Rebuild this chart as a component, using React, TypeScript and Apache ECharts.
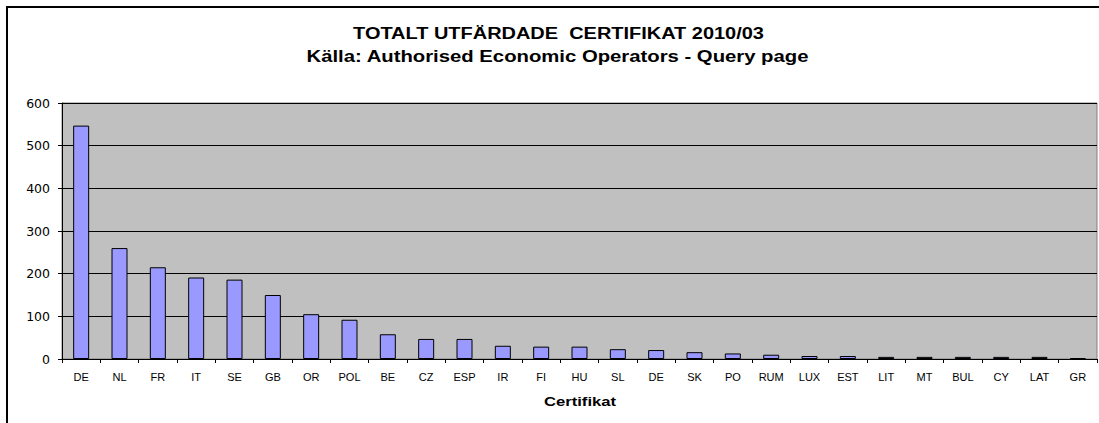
import React, { useEffect, useRef } from "react";
import * as echarts from "echarts";

const categories = ["DE", "NL", "FR", "IT", "SE", "GB", "OR", "POL", "BE", "CZ", "ESP", "IR", "FI", "HU", "SL", "DE ", "SK", "PO", "RUM", "LUX", "EST", "LIT", "MT", "BUL", "CY", "LAT", "GR"];
const values = [547, 260, 215, 191, 186, 150, 105, 92, 58, 47, 47, 31, 29, 29, 23, 21, 16, 13, 10, 7, 7, 5, 5, 5, 5, 5, 2];
const yTicks = [0, 100, 200, 300, 400, 500, 600];
const titleText = "TOTALT UTFÄRDADE  CERTIFIKAT 2010/03";
const subtitleText = "Källa: Authorised Economic Operators - Query page";
const xAxisName = "Certifikat";

export default function App() {
  const ref = useRef<HTMLDivElement>(null);
  useEffect(() => {
    if (!ref.current) return;
    const chart = echarts.init(ref.current, undefined, { renderer: "svg" });
    const font = "'Liberation Sans', Arial, sans-serif";
    const boldText = (text: string, x: number, y: number, size: number, sx: number) => ({
      type: "text",
      x,
      y,
      scaleX: sx,
      silent: true,
      style: {
        text,
        fill: "#000",
        font: `bold ${size}px ${font}`,
        textAlign: "center",
        textVerticalAlign: "middle",
      },
    });
    chart.setOption({
      animation: false,
      backgroundColor: "#ffffff",
      textStyle: { fontFamily: font },
      graphic: [
        {
          type: "polyline",
          shape: { points: [[7, 430], [7, 7], [1110, 7]] },
          style: { stroke: "#000", lineWidth: 2, fill: null },
          silent: true,
        },
        boldText(titleText, 558.5, 33.5, 16, 1.248),
        boldText(subtitleText, 557.5, 56, 16, 1.268),
        boldText(xAxisName, 580, 401, 13, 1.28),
      ],
      grid: {
        left: 62,
        right: 2,
        top: 103,
        bottom: 64,
        show: true,
        backgroundColor: "#c0c0c0",
        borderColor: "#808080",
        borderWidth: 1,
      },
      xAxis: {
        type: "category",
        data: categories,
        axisLine: { show: true, lineStyle: { color: "#000", width: 1 } },
        axisTick: { show: true, interval: 0, length: 4, lineStyle: { color: "#000" } },
        axisLabel: {
          interval: 0,
          margin: 12,
          fontSize: 11,
          color: "#000",
          fontFamily: font,
          formatter: (v: string) => v.trim(),
        },
        splitLine: { show: false },
      },
      yAxis: {
        type: "value",
        min: yTicks[0],
        max: yTicks[yTicks.length - 1],
        interval: yTicks[1] - yTicks[0],
        axisLine: { show: true, lineStyle: { color: "#000", width: 1 } },
        axisTick: { show: true, length: 4, lineStyle: { color: "#000" } },
        axisLabel: { margin: 12, fontSize: 12.5, color: "#000", fontFamily: "'DejaVu Sans', sans-serif" },
        splitLine: { show: true, lineStyle: { color: "#000", width: 1 } },
      },
      series: [
        {
          type: "bar",
          data: values,
          barWidth: 16,
          itemStyle: { color: "#9999ff", borderColor: "#000", borderWidth: 1 },
        },
      ],
    });
    return () => chart.dispose();
  }, []);
  return (
    <div
      ref={ref}
      style={{ position: "fixed", left: 0, top: 0, width: 1099, height: 423 }}
    />
  );
}
